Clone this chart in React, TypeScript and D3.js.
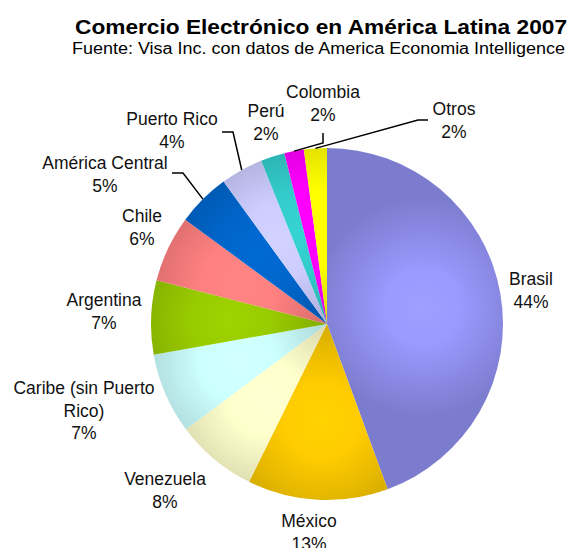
import React from 'react';
import * as d3 from 'd3';

const categories = [
  'Brasil',
  'México',
  'Venezuela',
  'Caribe (sin Puerto Rico)',
  'Argentina',
  'Chile',
  'América Central',
  'Puerto Rico',
  'Perú',
  'Colombia',
  'Otros',
];
const values = [44.4, 12.9, 7.5, 7.4, 6.8, 6.1, 4.9, 3.9, 2.2, 1.8, 2.1];
const colors = [
  '#9999FF', '#FFCC00', '#FFFFCC', '#CCFFFF', '#99CC00', '#FF8080',
  '#0066CC', '#CCCCFF', '#33CCCC', '#FF00FF', '#FFFF00',
];
const labelLines = [
  ['Brasil'],
  ['México'],
  ['Venezuela'],
  ['Caribe (sin Puerto', 'Rico)'],
  ['Argentina'],
  ['Chile'],
  ['América Central'],
  ['Puerto Rico'],
  ['Perú'],
  ['Colombia'],
  ['Otros'],
];
const title = 'Comercio Electrónico en América Latina 2007';
const subtitle = 'Fuente: Visa Inc. con datos de America Economia Intelligence';

// layout (label anchor = center x, first baseline y)
const labelPos: [number, number][] = [
  [531, 285],
  [309, 527],
  [165, 485],
  [84, 394],
  [104, 306],
  [142, 222],
  [105, 169],
  [172, 125],
  [266, 117],
  [323, 98],
  [454, 115],
];
// leader lines: [elbow, end] (null = no leader)
const leaders: ([number, number][] | null)[] = [
  null, null, null, null, null, null,
  [[183, 173], [172, 173]],
  [[233, 132], [222, 132]],
  null,
  [[323, 143], [323, 133]],
  [[418, 120], [428, 120]],
];

const W = 571;
const H = 548;
const CX = 327;
const CY = 324;
const R = 176;
const LH = 22.5;

export default function App() {
  const total = d3.sum(values);
  const pie = d3.pie<number>().sort(null).value((d) => d);
  const arcs = pie(values);
  const arc = d3.arc<d3.PieArcDatum<number>>().innerRadius(0).outerRadius(R);
  const cArc = d3.arc<d3.PieArcDatum<number>>().innerRadius(0).outerRadius(R * 1.1);
  const fmt = (v: number) => `${Math.round((v / total) * 100)}%`;

  return (
    <svg
      width={W}
      height={H}
      style={{ position: 'absolute', left: 0, top: 0, background: '#fff' }}
      fontFamily="'Liberation Sans', Arial, sans-serif"
    >
      <defs>
        {arcs.map((a, i) => {
          const [gx, gy] = cArc.centroid(a);
          const base = d3.color(colors[i])!;
          return (
            <radialGradient
              key={i}
              id={`sliceGrad${i}`}
              gradientUnits="userSpaceOnUse"
              cx={gx}
              cy={gy}
              r={R * 0.62}
            >
              <stop offset="0%" stopColor={base.brighter(0.1).formatHex()} />
              <stop offset="35%" stopColor={base.formatHex()} />
              <stop offset="100%" stopColor={base.darker(0.6).formatHex()} />
            </radialGradient>
          );
        })}
      </defs>
      <rect width={W} height={H} fill="#fff" />
      <text
        x={75}
        y={34}
        fontSize={20}
        fontWeight="bold"
        fill="#000"
        textLength={492}
        lengthAdjust="spacingAndGlyphs"
      >
        {title}
      </text>
      <text
        x={72}
        y={54}
        fontSize={16}
        fill="#000"
        textLength={493}
        lengthAdjust="spacingAndGlyphs"
      >
        {subtitle}
      </text>
      <g transform={`translate(${CX},${CY})`}>
        {arcs.map((a, i) => (
          <path key={i} d={arc(a) || ''} fill={`url(#sliceGrad${i})`} />
        ))}
      </g>
      {arcs.map((a, i) => {
        const l = leaders[i];
        if (!l) return null;
        const mid = (a.startAngle + a.endAngle) / 2;
        const sx = CX + R * Math.sin(mid);
        const sy = CY - R * Math.cos(mid);
        const pts: [number, number][] = [[sx, sy], ...l];
        return (
          <path
            key={`l${i}`}
            d={d3.line()(pts) || ''}
            fill="none"
            stroke="#000"
            strokeWidth={1.5}
          />
        );
      })}
      {categories.map((c, i) => {
        const [x, y] = labelPos[i];
        const lines = [...labelLines[i], fmt(values[i])];
        return (
          <text key={c} x={x} y={y} textAnchor="middle" fontSize={17.5} fill="#111">
            {lines.map((t, j) => (
              <tspan key={j} x={x} y={y + j * LH}>
                {t}
              </tspan>
            ))}
          </text>
        );
      })}
    </svg>
  );
}
